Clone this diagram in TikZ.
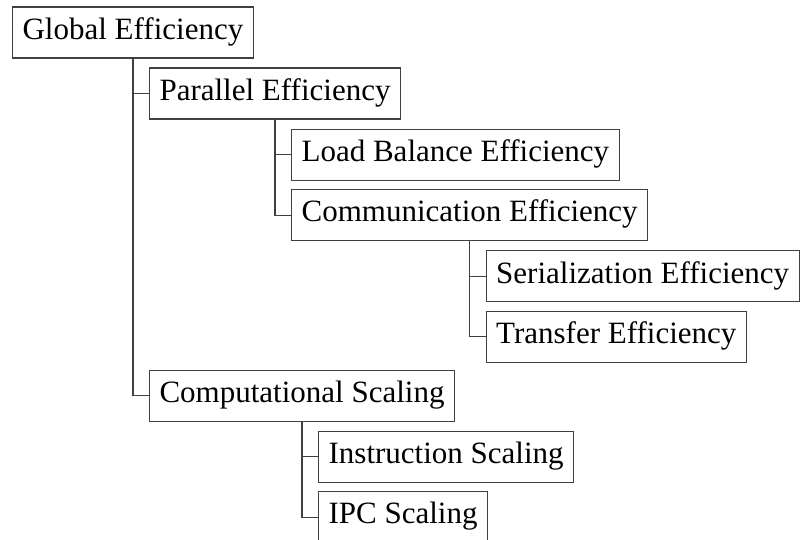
\documentclass[tikz,border=0pt]{standalone}
\usepackage{fontspec}
\setmainfont{Liberation Serif}
\begin{document}
\begin{tikzpicture}[x=1pt,y=1pt,
    metric/.style={draw=black!75, line width=1.2pt, anchor=west,
      minimum height=51pt, inner xsep=10pt, inner ysep=0pt,
      text height=21pt, text depth=7.5pt,
      font=\fontsize{31}{37}\selectfont},
    link/.style={draw=black!75, line width=1.2pt}]
    \useasboundingbox (0,0) rectangle (802,-540);

    % root
    \node[metric] (glob) at (12,-32.5) {Global Efficiency};

    % first level
    \node[metric] (par) at ([shift={(16,-35)}]glob.south) {Parallel Efficiency};
    \node[metric] (comp) at ([yshift=-302]par.west) {Computational Scaling};

    % parallel efficiency split
    \node[metric] (load) at ([shift={(16,-35)}]par.south) {Load Balance Efficiency};
    \node[metric] (comm) at ([yshift=-60.5]load.west) {Communication Efficiency};

    % communication split
    \node[metric] (ser) at ([shift={(16,-35)}]comm.south) {Serialization Efficiency};
    \node[metric] (trans) at ([yshift=-60.5]ser.west) {Transfer Efficiency};

    % scaling split
    \node[metric] (instr) at ([shift={(16,-35)}]comp.south) {Instruction Scaling};
    \node[metric] (ipc) at ([yshift=-60.5]instr.west) {IPC Scaling};

    % tree lines
    \draw[link] (glob.south) |- (par.west);
    \draw[link] (glob.south) |- (comp.west);
    \draw[link] (par.south) |- (load.west);
    \draw[link] (par.south) |- (comm.west);
    \draw[link] (comm.south) |- (ser.west);
    \draw[link] (comm.south) |- (trans.west);
    \draw[link] (comp.south) |- (instr.west);
    \draw[link] (comp.south) |- (ipc.west);
\end{tikzpicture}
\end{document}
